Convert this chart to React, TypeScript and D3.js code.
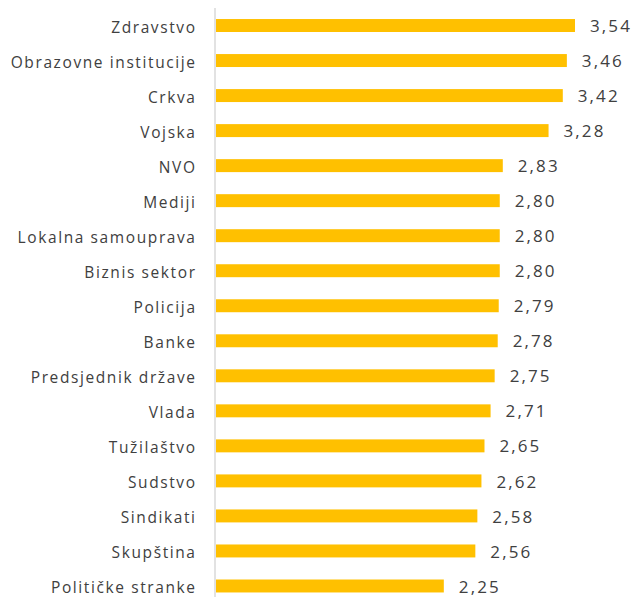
import React, { useEffect, useRef } from 'react';
import * as d3 from 'd3';

const categories = [
  'Zdravstvo',
  'Obrazovne institucije',
  'Crkva',
  'Vojska',
  'NVO',
  'Mediji',
  'Lokalna samouprava',
  'Biznis sektor',
  'Policija',
  'Banke',
  'Predsjednik države',
  'Vlada',
  'Tužilaštvo',
  'Sudstvo',
  'Sindikati',
  'Skupština',
  'Političke stranke',
];

const values = [3.54, 3.46, 3.42, 3.28, 2.83, 2.8, 2.8, 2.8, 2.79, 2.78, 2.75, 2.71, 2.65, 2.62, 2.58, 2.56, 2.25];

const W = 634;
const H = 597;

const App = () => {
  const ref = useRef<SVGSVGElement | null>(null);

  useEffect(() => {
    if (!ref.current) return;
    const svg = d3.select(ref.current);
    svg.selectAll('*').remove();

    const x0 = 215;
    const x = d3.scaleLinear().domain([0, 3.54]).range([x0, 575]);
    const y = d3.scaleBand().domain(categories).range([8, 603.5]).paddingInner(0.63).paddingOuter(0.315);

    const data = categories.map((c, i) => ({ c, v: values[i] }));

    svg
      .selectAll('rect.bar')
      .data(data)
      .enter()
      .append('rect')
      .attr('class', 'bar')
      .attr('x', x(0) + 1)
      .attr('y', (d) => y(d.c))
      .attr('width', (d) => x(d.v) - x(0) - 1)
      .attr('height', y.bandwidth())
      .attr('fill', '#FFC000');

    svg
      .append('line')
      .attr('x1', x(0))
      .attr('x2', x(0))
      .attr('y1', 8)
      .attr('y2', H)
      .attr('stroke', '#d9d9d9')
      .attr('stroke-width', 1.5);

    // category labels, wide spacing like the original
    const catSpacing = 1.6;
    svg
      .selectAll('text.cat')
      .data(data)
      .enter()
      .append('text')
      .attr('class', 'cat')
      .attr('x', 195 + catSpacing)
      .attr('y', (d) => y(d.c) + y.bandwidth() / 2 + 1.5)
      .attr('dy', '0.36em')
      .attr('text-anchor', 'end')
      .attr('font-family', 'Open Sans, sans-serif')
      .attr('font-size', 15.5)
      .attr('letter-spacing', catSpacing)
      .attr('fill', '#404040')
      .text((d) => d.c);

    svg
      .selectAll('text.val')
      .data(data)
      .enter()
      .append('text')
      .attr('class', 'val')
      .attr('x', (d) => x(d.v) + 15)
      .attr('y', (d) => y(d.c) + y.bandwidth() / 2 + 0.5)
      .attr('dy', '0.36em')
      .attr('font-family', 'Open Sans, sans-serif')
      .attr('font-size', 17)
      .attr('letter-spacing', 2.1)
      .attr('fill', '#404040')
      .text((d) => d3.format('.2f')(d.v).replace('.', ','));
  }, []);

  return (
    <div style={{ position: 'absolute', left: 0, top: 0 }}>
      <svg ref={ref} width={W} height={H} style={{ display: 'block', background: '#fff' }} />
    </div>
  );
};

export default App;
